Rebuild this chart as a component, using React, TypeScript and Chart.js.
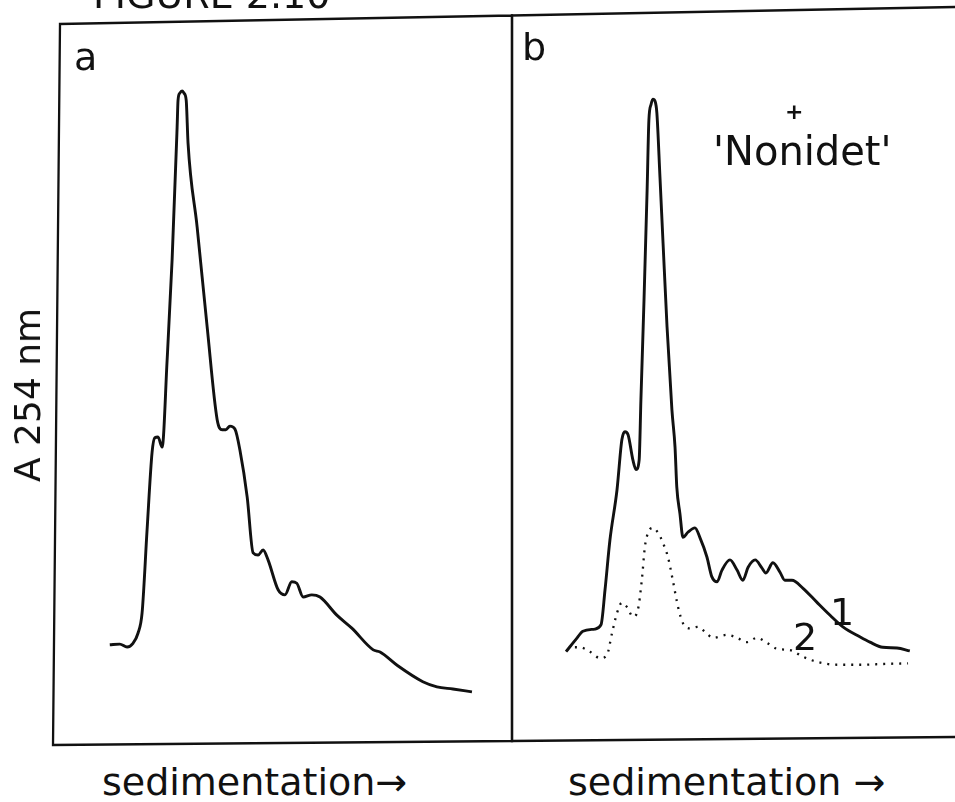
import React, { useEffect, useRef } from "react";
import { Chart, registerables } from "chart.js";

Chart.register(...registerables);

// ---- Data (arbitrary units: x = sedimentation position, y = A254) ----
// Panel a
const aX = [11.6, 13.8, 15.4, 16.7, 17.8, 18.7, 19.8, 20.9, 21.5, 22.2, 23.1, 24.2, 25.3, 26.4, 26.6, 27.0, 27.5, 27.9, 28.4, 28.8, 30.8, 33.0, 35.2, 36.3, 37.1, 38.0, 39.1, 40.2, 41.8, 43.1, 44.2, 45.3, 46.4, 48.6, 50.1, 51.6, 52.7, 54.1, 56.0, 57.8, 61.5, 64.8, 69.5, 71.0, 74.9, 80.4, 83.5, 87.0, 91.2];
const aY = [13.7, 13.8, 13.4, 13.9, 15.3, 18.1, 29.6, 40.3, 42.3, 42.4, 41.0, 53.0, 66.9, 85.2, 88.9, 89.9, 90.2, 89.9, 88.9, 83.0, 71.4, 57.6, 44.8, 43.4, 43.4, 43.9, 43.5, 40.6, 34.1, 26.4, 26.1, 26.8, 25.4, 21.3, 20.6, 22.4, 22.2, 20.3, 20.6, 20.3, 17.8, 16.0, 13.0, 12.7, 10.8, 8.6, 7.9, 7.6, 7.2];

// Panel b, curve 1 (solid)
const b1X = [12.2, 14.7, 16.0, 18.7, 20.1, 21.0, 22.1, 23.7, 24.8, 25.5, 26.2, 27.3, 28.0, 28.7, 29.1, 29.8, 30.5, 30.9, 31.4, 31.8, 32.3, 32.7, 33.4, 34.1, 35.0, 36.1, 36.8, 37.2, 37.9, 38.6, 39.7, 41.3, 42.4, 44.0, 45.1, 46.3, 47.4, 49.2, 50.8, 52.1, 53.3, 54.9, 56.4, 57.3, 58.9, 60.5, 61.6, 63.2, 65.7, 68.8, 71.8, 74.7, 78.6, 80.8, 83.7, 86.9, 89.8];
const b1Y = [12.0, 13.9, 14.8, 15.1, 15.7, 20.5, 27.3, 34.2, 41.1, 42.2, 41.8, 38.3, 37.0, 38.3, 46.6, 60.3, 75.4, 85.0, 87.2, 87.9, 87.6, 86.0, 77.2, 68.1, 56.6, 45.2, 40.1, 34.6, 31.0, 27.7, 28.4, 29.0, 27.7, 25.0, 22.3, 21.6, 23.2, 24.6, 23.2, 21.8, 23.6, 24.6, 23.5, 22.8, 24.2, 22.9, 21.8, 21.8, 20.7, 18.8, 17.0, 15.4, 14.0, 13.3, 12.6, 12.5, 12.1];

// Panel b, curve 2 (dotted)
const b2X = [14.2, 15.3, 17.6, 19.9, 21.4, 22.6, 23.7, 24.8, 26.0, 27.3, 28.4, 29.3, 30.0, 30.7, 31.8, 33.0, 34.1, 35.2, 36.3, 37.5, 38.6, 40.2, 42.0, 43.6, 45.4, 48.5, 50.8, 53.0, 55.3, 57.6, 59.8, 62.8, 65.7, 68.8, 73.4, 78.6, 83.7, 89.4];
const b2Y = [12.6, 12.6, 12.0, 11.1, 11.5, 14.6, 17.3, 18.7, 18.1, 16.8, 17.7, 21.8, 26.4, 28.3, 29.0, 28.3, 26.9, 25.0, 21.8, 18.1, 15.9, 15.2, 15.4, 14.7, 13.9, 14.3, 13.9, 13.3, 13.9, 13.2, 12.4, 12.2, 11.3, 10.6, 10.2, 10.2, 10.3, 10.4];

// Text
const FIGURE_TITLE = "FIGURE 2.10";
const PANEL_LABELS = ["a", "b"];
const Y_LABEL = "A 254 nm";
const X_LABELS = ["sedimentation\u2192", "sedimentation \u2192"];
const ANNOTATION = "'Nonidet'";
const CURVE_LABELS = ["1", "2"];

const INK = "#111111";
const FONT = "'DejaVu Sans', sans-serif";

const toPoints = (xs: number[], ys: number[]) => xs.map((x, i) => ({ x, y: ys[i] }));

type Corners = { tl: number[]; tr: number[]; bl: number[]; br: number[] };

// Draws the panel frame; corners are small offsets from the chart-area corners
// (the original scan is slightly skewed).
const framePlugin = {
  id: "frame",
  afterDraw(chart: any, _args: any, opts: any) {
    const { ctx, chartArea } = chart;
    const sides: string[] = opts.sides || ["left", "top", "right", "bottom"];
    const c: Corners = opts.corners || { tl: [0, 0], tr: [0, 0], bl: [0, 0], br: [0, 0] };
    const { left, right, top, bottom } = chartArea;
    const TL = [left + c.tl[0], top + c.tl[1]];
    const TR = [right + c.tr[0], top + c.tr[1]];
    const BL = [left + c.bl[0], bottom + c.bl[1]];
    const BR = [right + c.br[0], bottom + c.br[1]];
    ctx.save();
    ctx.strokeStyle = INK;
    ctx.lineWidth = 2.3;
    ctx.lineCap = "square";
    ctx.beginPath();
    if (sides.includes("left")) { ctx.moveTo(TL[0], TL[1]); ctx.lineTo(BL[0], BL[1]); }
    if (sides.includes("top")) { ctx.moveTo(TL[0], TL[1]); ctx.lineTo(TR[0], TR[1]); }
    if (sides.includes("bottom")) { ctx.moveTo(BL[0], BL[1]); ctx.lineTo(BR[0], BR[1]); }
    if (sides.includes("right")) { ctx.moveTo(TR[0], TR[1]); ctx.lineTo(BR[0], BR[1]); }
    ctx.stroke();
    ctx.restore();
  },
};

function Panel(props: {
  left: number; top: number; width: number; height: number;
  padding: { left: number; right: number; top: number; bottom: number };
  datasets: any[]; sides: string[]; corners: Corners;
}) {
  const ref = useRef<HTMLCanvasElement>(null);
  useEffect(() => {
    if (!ref.current) return;
    const chart = new Chart(ref.current, {
      type: "line",
      data: { datasets: props.datasets },
      options: {
        animation: false,
        responsive: false,
        maintainAspectRatio: false,
        layout: { padding: props.padding },
        scales: {
          x: { type: "linear", min: 0, max: 100, display: false },
          y: { type: "linear", min: 0, max: 100, display: false },
        },
        plugins: {
          legend: { display: false },
          tooltip: { enabled: false },
          // @ts-ignore
          frame: { sides: props.sides, corners: props.corners },
        },
        elements: { point: { radius: 0 } },
      },
      plugins: [framePlugin],
    });
    return () => chart.destroy();
  }, []);
  return (
    <canvas
      ref={ref}
      width={props.width}
      height={props.height}
      style={{ position: "absolute", left: props.left, top: props.top, width: props.width, height: props.height }}
    />
  );
}

function Label(props: { text: string; left: number; baseline: number; size: number; weight?: string | number }) {
  return (
    <div
      style={{
        position: "absolute",
        left: props.left,
        top: props.baseline - 0.846 * props.size,
        fontFamily: FONT,
        fontSize: props.size,
        fontWeight: props.weight ?? "normal",
        lineHeight: 1,
        whiteSpace: "nowrap",
        color: INK,
      }}
    >
      {props.text}
    </div>
  );
}

export default function App() {
  const lineBase = {
    borderColor: INK,
    backgroundColor: INK,
    fill: false,
    pointRadius: 0,
    cubicInterpolationMode: "monotone" as const,
    borderJoinStyle: "round" as const,
  };
  const dsA = [{ ...lineBase, label: "a", data: toPoints(aX, aY), borderWidth: 2.9 }];
  const dsB = [
    { ...lineBase, label: "1", data: toPoints(b1X, b1Y), borderWidth: 2.9 },
    { ...lineBase, label: "2", data: toPoints(b2X, b2Y), borderWidth: 2.3, borderDash: [2, 6] },
  ];
  return (
    <div style={{ position: "absolute", left: 0, top: 0, width: 955, height: 802, overflow: "hidden", background: "#fff" }}>
      <Panel left={47} top={8} width={475} height={746}
        padding={{ left: 10, right: 10, top: 12, bottom: 10 }} datasets={dsA}
        sides={["left", "top", "bottom", "right"]}
        corners={{ tl: [3, 4], tr: [0, -4.5], bl: [-4, 1], br: [0, -3] }} />
      <Panel left={502} top={0} width={453} height={749}
        padding={{ left: 10, right: 0, top: 11, bottom: 10 }} datasets={dsB}
        sides={["left", "top", "bottom"]}
        corners={{ tl: [0, 4.5], tr: [0, -4], bl: [0, 2], br: [0, -2] }} />

      <Label text={FIGURE_TITLE} left={93} baseline={8} size={38} />
      <Label text={PANEL_LABELS[0]} left={74} baseline={70} size={38} />
      <Label text={PANEL_LABELS[1]} left={522} baseline={60} size={38} />
      <Label text="+" left={785} baseline={120} size={22} weight="bold" />
      <Label text={ANNOTATION} left={713} baseline={165} size={40} />
      <Label text={CURVE_LABELS[0]} left={830} baseline={625} size={38} />
      <Label text={CURVE_LABELS[1]} left={793} baseline={650} size={38} />
      <Label text={X_LABELS[0]} left={102} baseline={795} size={38} />
      <Label text={X_LABELS[1]} left={568} baseline={795} size={38} />

      <div
        style={{
          position: "absolute",
          left: 28,
          top: 395,
          transform: "translate(-50%, -50%) rotate(-90deg)",
          fontFamily: FONT,
          fontSize: 36,
          lineHeight: 1,
          whiteSpace: "nowrap",
          color: INK,
        }}
      >
        {Y_LABEL}
      </div>
    </div>
  );
}
